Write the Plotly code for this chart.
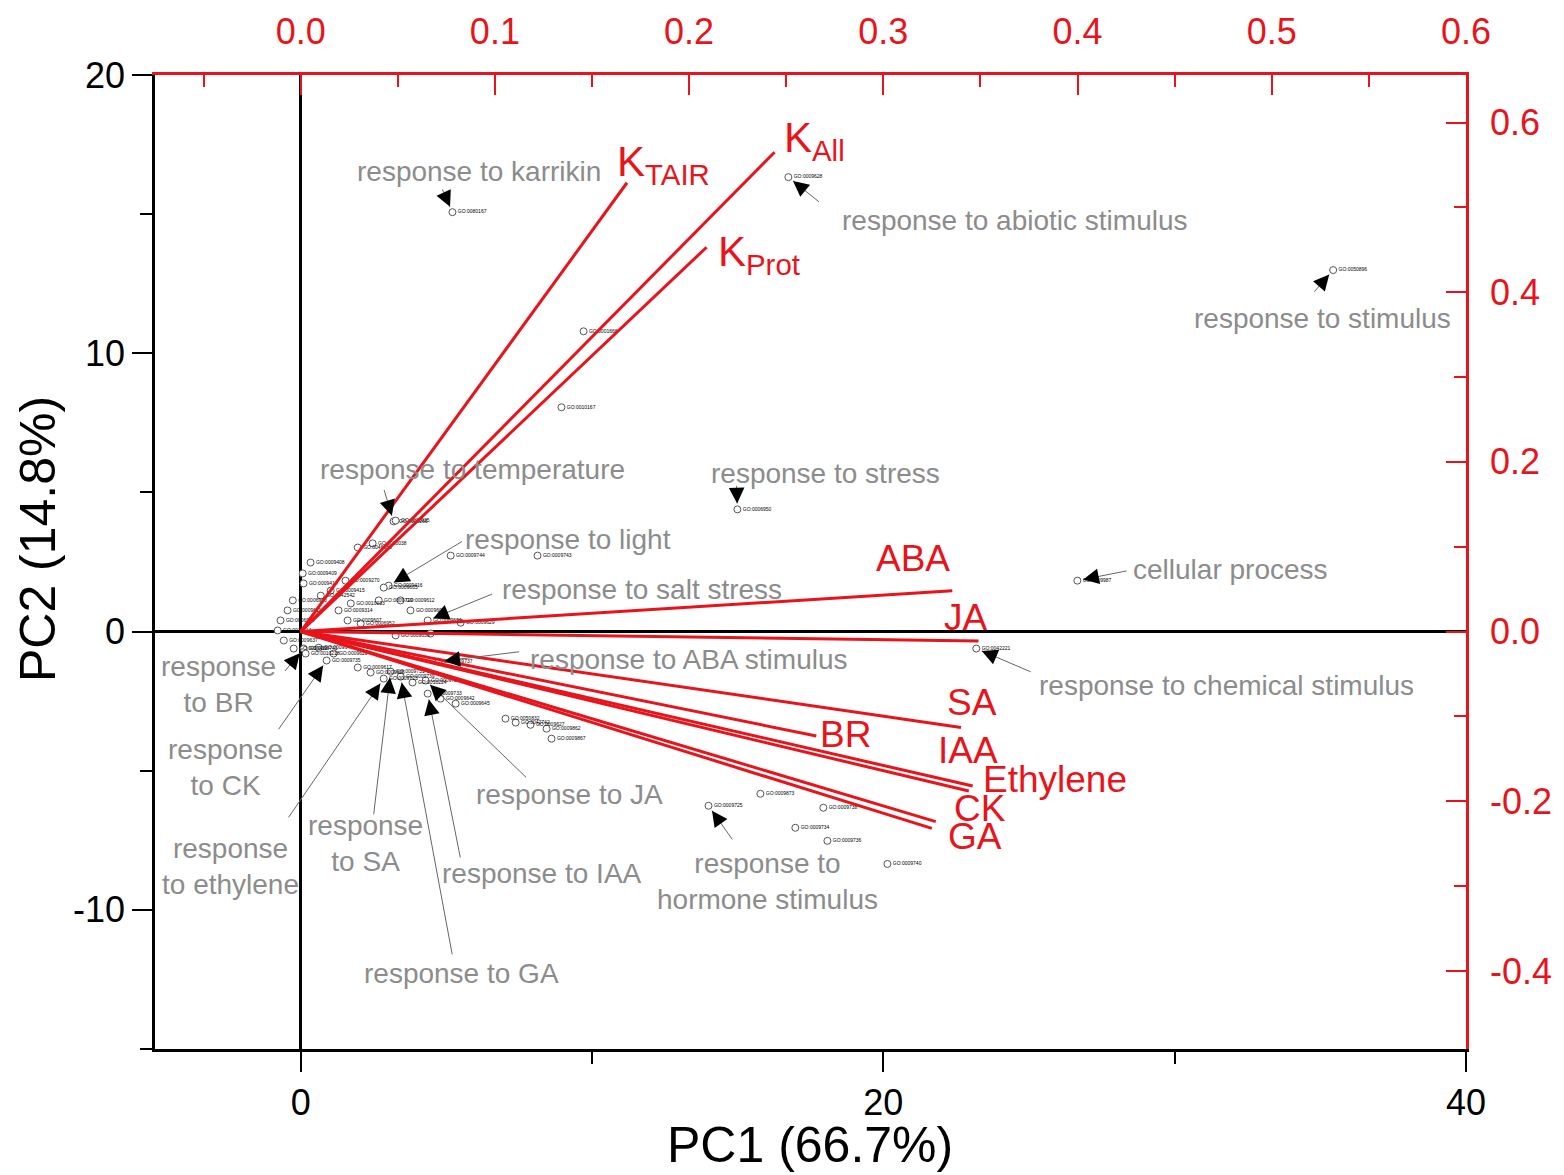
import math
import plotly.graph_objects as go

# ---------------- data ----------------
# PCA scores (PC1, PC2) of GO terms; first 18 are the annotated terms
pc1 = [5.21, 16.74, 35.44, 3.19, 14.99, 3.02, 4.36, 26.66, 4.73, 23.19,
       0.10, 0.89, 2.85, 3.09, 3.43, 4.36, 4.29, 14.00,
       0.07, 0.34, 0.10, -0.27, -0.45, -0.69, -0.79, -0.58, -0.24, 0.17,
       0.62, 1.30, 1.72, 2.68, 2.85, 1.61, 2.06, 4.46, 1.13, 1.96,
       2.40, 1.96, 2.47, 3.26, 5.15, 8.13, 9.71, 8.95, 0.69, 1.03,
       1.54, 3.43, 3.77, 5.49, 3.26, 3.84, 4.80, 5.32, 7.03, 7.38,
       7.89, 8.44, 8.61, 15.78, 17.94, 16.98, 18.08, 20.14]
pc2 = [15.07, 16.33, 12.99, 3.96, 4.39, 1.65, 0.40, 1.83, -1.08, -0.61,
       -0.61, -1.04, -1.69, -1.44, -1.62, -2.23, -1.76, -6.26,
       2.09, 2.48, 1.73, 1.12, 0.76, 0.40, 0.04, -0.32, -0.61, -0.79,
       -0.58, 0.76, 1.01, 1.12, 1.58, 0.40, 0.29, -0.07, -0.79, -1.29,
       -1.47, 3.02, 3.17, 3.99, 2.73, 2.73, 10.79, 8.06, 1.29, 1.47,
       1.83, 1.12, 0.76, 0.32, -0.14, -1.83, -2.41, -2.59, -3.13, -3.27,
       -3.35, -3.49, -3.85, -5.83, -6.33, -7.05, -7.52, -8.35]
go_ids = ["GO:0080167", "GO:0009628", "GO:0050896", "GO:0009266", "GO:0006950",
          "GO:0009416", "GO:0009651", "GO:0009987", "GO:0009737", "GO:0042221",
          "GO:0009741", "GO:0009735", "GO:0009723", "GO:0009751", "GO:0009739",
          "GO:0009733", "GO:0009753", "GO:0009725",
          "GO:0009409", "GO:0009408", "GO:0009414", "GO:0006970", "GO:0009611",
          "GO:0006979", "GO:0010114", "GO:0009637", "GO:0009411", "GO:0010218",
          "GO:0009644", "GO:0009314", "GO:0010033", "GO:0009719", "GO:0009605",
          "GO:0009607", "GO:0006952", "GO:0051707", "GO:0009620", "GO:0009617",
          "GO:0009625", "GO:0046686", "GO:0010038", "GO:0010035", "GO:0009744",
          "GO:0009743", "GO:0001666", "GO:0010167", "GO:0042542", "GO:0009415",
          "GO:0009270", "GO:0009612", "GO:0009606", "GO:0009629", "GO:0009639",
          "GO:0010224", "GO:0009642", "GO:0009645", "GO:0050832", "GO:0042742",
          "GO:0009627", "GO:0009862", "GO:0009867", "GO:0009873", "GO:0009738",
          "GO:0009734", "GO:0009736", "GO:0009740"]

# annotated GO terms (index into score arrays)
term_labels = ["response to karrikin", "response to abiotic stimulus", "response to stimulus",
               "response to temperature", "response to stress", "response to light",
               "response to salt stress", "cellular process", "response to ABA stimulus",
               "response to chemical stimulus", "response<br>to BR", "response<br>to CK",
               "response<br>to ethylene", "response<br>to SA", "response to GA",
               "response to IAA", "response to JA", "response to<br>hormone stimulus"]
term_label_x = [6.11, 24.53, 35.09, 5.90, 18.01, 9.16, 11.70, 31.90, 13.34, 31.77,
                -2.81, -2.57, -2.40, 2.23, 5.52, 8.30, 9.23, 16.02]
term_label_y = [16.55, 14.78, 11.26, 5.83, 5.68, 3.31, 1.51, 2.23, -1.01, -1.94,
                -1.91, -4.89, -8.45, -7.63, -12.27, -8.71, -5.86, -8.99]
arrow_tail_x = [4.84, 17.84, 34.75, 2.85, 14.96, 5.59, 6.62, 28.40, 7.55, 25.11,
                -0.58, -0.79, -0.45, 2.50, 5.21, 5.49, 7.79, 14.85]
arrow_tail_y = [15.94, 15.40, 12.16, 5.14, 5.29, 3.27, 1.37, 2.19, -0.72, -1.47,
                -1.47, -3.56, -6.73, -6.62, -11.65, -8.17, -5.29, -7.52]

# loadings (top / right axes)
load_names = ["K<sub>TAIR</sub>", "K<sub>All</sub>", "K<sub>Prot</sub>", "ABA", "JA", "SA",
              "BR", "IAA", "Ethylene", "CK", "GA"]
load_x = [0.168, 0.244, 0.209, 0.3355, 0.349, 0.340, 0.2655, 0.346, 0.344, 0.327, 0.325]
load_y = [0.529, 0.565, 0.453, 0.048, -0.011, -0.113, -0.123, -0.182, -0.188, -0.224, -0.232]
load_label_x = [0.1616, 0.248, 0.214, 0.3154, 0.3427, 0.3458, 0.2804, 0.3437, 0.3885, 0.3499, 0.3473]
load_label_y = [0.550, 0.579, 0.444, 0.0861, 0.0165, -0.0838, -0.1215, -0.1404, -0.1746, -0.2088, -0.2419]

# axes
x_range = [-5, 40]
y_range = [-15, 20]
x2_range = [-0.075, 0.6]
y2_range = [-0.492, 0.656]

W, H = 1564, 1175
ML, MR, MT, MB = 155, 98, 75, 126

RED = "#e8141c"
GRAY = "#8c8c8c"
FONT = "Liberation Sans, Arial, sans-serif"

fig = go.Figure()

# score points
fig.add_trace(go.Scatter(
    x=pc1, y=pc2, mode="markers+text", text=go_ids,
    textposition="middle right", textfont=dict(size=5, color="black", family=FONT),
    marker=dict(symbol="circle", size=7, color="white", line=dict(color="#555555", width=1)),
    showlegend=False, hoverinfo="skip"))

# loading vectors
lx, ly = [], []
for x, y in zip(load_x, load_y):
    lx += [0, x, None]
    ly += [0, y, None]
fig.add_trace(go.Scatter(x=lx, y=ly, xaxis="x2", yaxis="y2", mode="lines",
                         line=dict(color=RED, width=3), showlegend=False, hoverinfo="skip"))

annotations = []
# loading labels
for i, name in enumerate(load_names):
    big = name.startswith("K")
    annotations.append(dict(
        x=load_label_x[i], y=load_label_y[i], xref="x2", yref="y2", text=name,
        showarrow=False, xanchor="left" if big else "center", yanchor="middle",
        font=dict(size=42 if big else 37, color=RED, family=FONT)))

# gray term labels and arrows
plot_w = W - ML - MR
plot_h = H - MT - MB
ppx = plot_w / (x_range[1] - x_range[0])
ppy = plot_h / (y_range[1] - y_range[0])
for i, lab in enumerate(term_labels):
    annotations.append(dict(
        x=term_label_x[i], y=term_label_y[i], xref="x", yref="y", text=lab,
        showarrow=False, font=dict(size=28, color=GRAY, family=FONT), align="center"))
    hx, hy = pc1[i], pc2[i]
    tx, ty = arrow_tail_x[i], arrow_tail_y[i]
    # thin gray line
    annotations.append(dict(
        x=hx, y=hy, xref="x", yref="y", ax=tx, ay=ty, axref="x", ayref="y",
        text="", showarrow=True, arrowhead=0, arrowwidth=1, arrowcolor="#666666", standoff=6))
    # black arrow head
    dxp = (tx - hx) * ppx
    dyp = -(ty - hy) * ppy
    L = math.hypot(dxp, dyp)
    k = 14.0 / L
    annotations.append(dict(
        x=hx, y=hy, xref="x", yref="y", ax=dxp * k, ay=dyp * k,
        text="", showarrow=True, arrowhead=2, arrowsize=2.4, arrowwidth=1.3,
        arrowcolor="black", standoff=6))

# axis titles
annotations.append(dict(x=0.4996, y=-0.0986, xref="paper", yref="paper", text="PC1 (66.7%)",
                        showarrow=False, xanchor="center", yanchor="middle",
                        font=dict(size=50, color="black", family=FONT)))
annotations.append(dict(x=-0.0892, y=0.5236, xref="paper", yref="paper", text="PC2 (14.8%)",
                        showarrow=False, xanchor="center", yanchor="middle", textangle=-90,
                        font=dict(size=50, color="black", family=FONT)))

tickfont_black = dict(size=36, color="black", family=FONT)
tickfont_red = dict(size=36, color=RED, family=FONT)

fig.update_layout(
    width=W, height=H,
    margin=dict(l=ML, r=MR, t=MT, b=MB),
    paper_bgcolor="white", plot_bgcolor="white",
    font=dict(family=FONT),
    annotations=annotations,
    xaxis=dict(
        range=x_range, showgrid=False, zeroline=True, zerolinecolor="black", zerolinewidth=2.5,
        showline=True, linecolor="black", linewidth=2.5,
        ticks="outside", ticklen=20, tickwidth=2, tickcolor="black",
        tickmode="array", tickvals=[0, 20, 40], ticktext=["0", "20", "40"],
        tickfont=tickfont_black,
        minor=dict(tickmode="array", tickvals=[10, 30], ticks="outside", ticklen=12,
                   tickwidth=2, tickcolor="black")),
    yaxis=dict(
        range=y_range, showgrid=False, zeroline=True, zerolinecolor="black", zerolinewidth=2.5,
        showline=True, linecolor="black", linewidth=2.5,
        ticks="outside", ticklen=20, tickwidth=2, tickcolor="black",
        tickmode="array", tickvals=[-10, 0, 10, 20], ticktext=["-10", "0", "10", "20"],
        tickfont=tickfont_black,
        minor=dict(tickmode="array", tickvals=[-15, -5, 5, 15], ticks="outside", ticklen=12,
                   tickwidth=2, tickcolor="black")),
    xaxis2=dict(
        range=x2_range, overlaying="x", side="top", anchor="y", showgrid=False, zeroline=False,
        showline=True, linecolor=RED, linewidth=2.5,
        ticks="inside", ticklen=20, tickwidth=2, tickcolor=RED,
        tickmode="array", tickvals=[0, 0.1, 0.2, 0.3, 0.4, 0.5, 0.6],
        ticktext=["0.0", "0.1", "0.2", "0.3", "0.4", "0.5", "0.6"],
        tickfont=tickfont_red, ticklabelstandoff=14,
        minor=dict(tickmode="array", tickvals=[-0.05, 0.05, 0.15, 0.25, 0.35, 0.45, 0.55],
                   ticks="inside", ticklen=12, tickwidth=2, tickcolor=RED)),
    yaxis2=dict(
        range=y2_range, overlaying="y", side="right", anchor="x", showgrid=False, zeroline=False,
        showline=True, linecolor=RED, linewidth=2.5,
        ticks="inside", ticklen=20, tickwidth=2, tickcolor=RED,
        tickmode="array", tickvals=[-0.4, -0.2, 0, 0.2, 0.4, 0.6],
        ticktext=["-0.4", "-0.2", "0.0", "0.2", "0.4", "0.6"],
        tickfont=tickfont_red, ticklabelstandoff=14,
        minor=dict(tickmode="array", tickvals=[-0.3, -0.1, 0.1, 0.3, 0.5],
                   ticks="inside", ticklen=12, tickwidth=2, tickcolor=RED)),
)

fig.write_html("out.html")
